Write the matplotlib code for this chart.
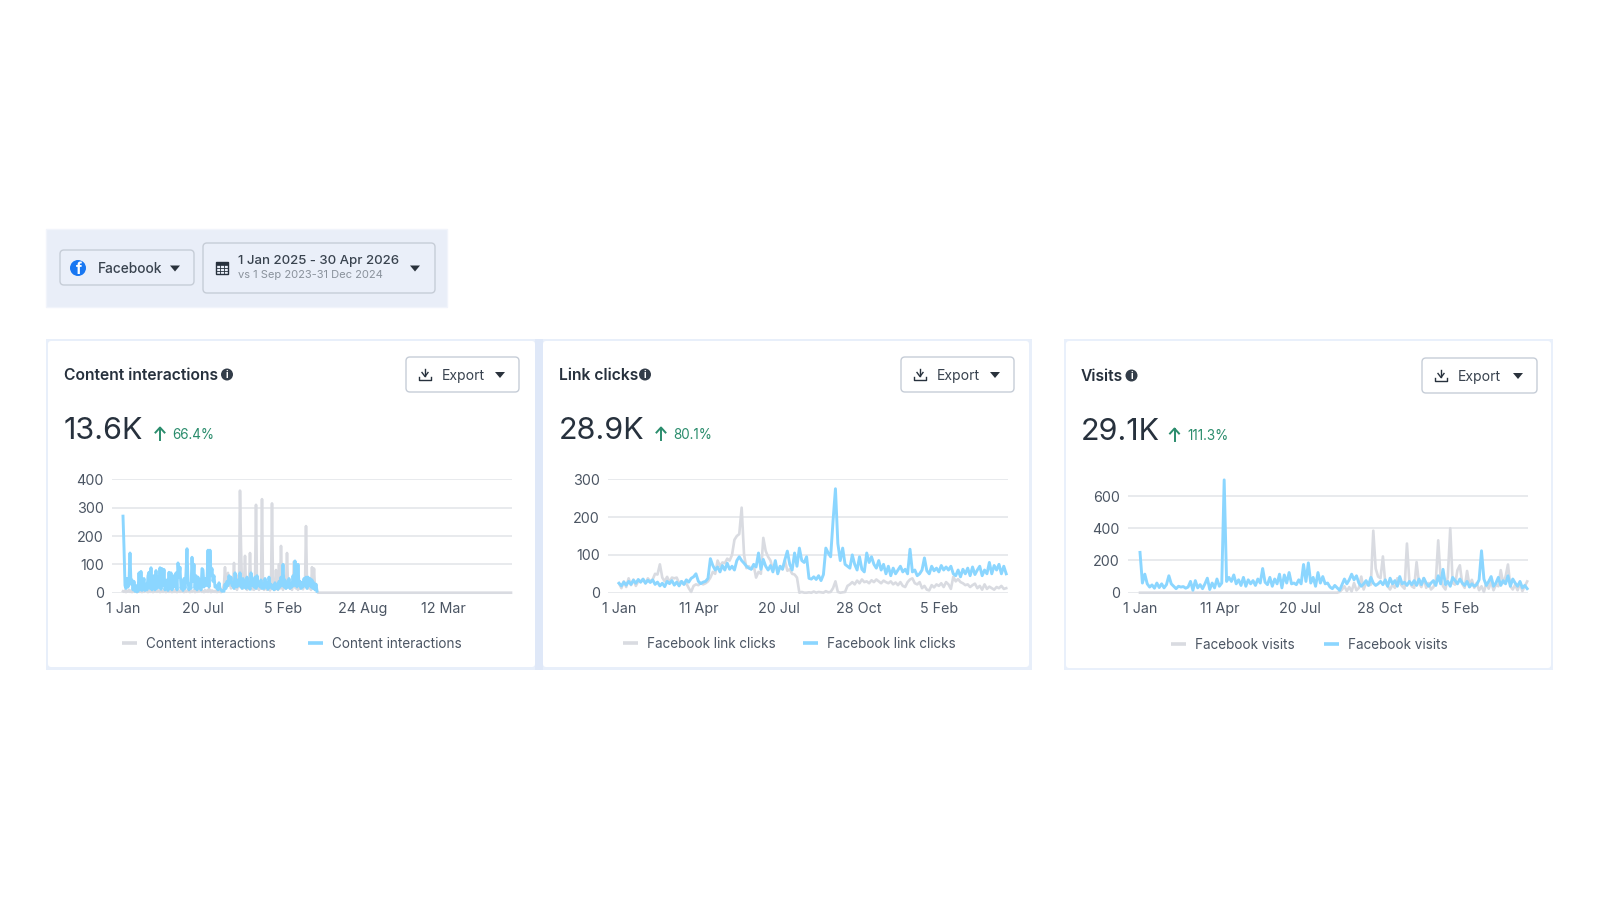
import numpy as np
import matplotlib
matplotlib.use("Agg")
import matplotlib.pyplot as plt
from matplotlib.patches import Rectangle, FancyBboxPatch, Circle, Polygon

plt.rcParams["font.family"] = ["Inter", "DejaVu Sans"]

# Daily-ish samples, one list per series
content_prev = [
    5, 3, 8, 2, 6, 4, 10, 3, 7, 2, 5, 8, 3, 6, 2, 4, 9, 3, 5, 2,
    7, 3, 6, 10, 4, 2, 8, 3, 5, 7, 2, 6, 4, 9, 3, 5, 8, 2, 4, 6,
    3, 10, 5, 2, 7, 4, 3, 8, 5, 2, 6, 3, 9, 4, 2, 7, 5, 3, 12, 4,
    6, 2, 8, 3, 5, 10, 4, 2, 7, 3, 6, 9, 2, 5, 3, 8, 4, 12, 6, 3,
    5, 2, 9, 4, 7, 3, 14, 5, 2, 8, 4, 6, 3, 7, 2, 5, 3, 6, 2, 4,
    15, 30, 90, 20, 45, 70, 25, 55, 15, 30,
    20, 105, 15, 35, 10, 60, 20, 360, 165, 25,
    15, 30, 130, 20, 10, 15, 25, 140, 30, 12,
    20, 10, 25, 310, 15, 30, 10, 20, 15, 330,
    20, 10, 30, 15, 10, 25, 12, 8, 20, 315,
    25, 15, 10, 80, 20, 10, 100, 15, 165, 30,
    10, 60, 20, 15, 140, 25, 45, 15, 20, 10,
    30, 110, 20, 15, 40, 10, 25, 15, 30, 20,
    12, 35, 20, 235, 30, 15, 25, 20, 10, 90,
    20, 85, 15, 30, 5,
]
content_curr = [
    270, 160, 25, 15, 50, 20, 40, 140, 30, 45,
    10, 40, 5, 25, 3, 5, 70, 10, 75, 8,
    25, 50, 8, 30, 10, 60, 72, 15, 88, 10,
    40, 60, 10, 78, 15, 55, 20, 88, 12, 85,
    25, 82, 10, 30, 45, 8, 72, 15, 70, 10,
    45, 60, 20, 70, 10, 105, 55, 90, 15, 30,
    8, 50, 15, 70, 155, 40, 10, 30, 15, 125,
    40, 100, 15, 60, 10, 55, 20, 45, 10, 85,
    80, 20, 50, 25, 40, 150, 20, 150, 60, 85,
    40, 60, 20, 25, 15, 10, 35, 15, 10, 5,
    8, 5, 30, 15, 40, 25, 60, 35, 55, 25,
    30, 15, 70, 40, 20, 45, 25, 70, 30, 15,
    50, 20, 40, 15, 55, 20, 30, 12, 70, 25,
    45, 20, 55, 15, 60, 25, 35, 20, 45, 15,
    30, 15, 50, 20, 35, 12, 55, 20, 30, 15,
    25, 10, 35, 15, 30, 12, 40, 20, 55, 25,
    100, 20, 45, 15, 35, 20, 50, 15, 30, 20,
    60, 25, 112, 30, 20, 100, 25, 40, 15, 35,
    20, 50, 25, 55, 15, 55, 25, 50, 20, 45,
    15, 35, 10, 30, 5,
]
clicks_prev = [
    25, 12, 30, 15, 38, 20, 35, 18, 30, 28, 36, 25, 38, 30, 35,
    50, 48, 75, 40, 30, 42, 28, 40, 38, 40, 25, 30, 22, 25, 12, 2,
    18, 22, 20, 26, 22, 25, 30, 40, 55, 50, 85, 70, 80, 78,
    90, 85, 100, 140, 150, 155, 225, 100, 65, 70, 62, 72, 40,
    55, 50, 145, 110, 95, 85, 60, 75, 55, 70, 62, 85, 58, 62, 50, 48,
    40, 0, 2, 0, 0, 1, 0, 3, 0, 2, 1, 0, 4, 1, 2, 12, 30, 2, 0, 1,
    2, 18, 22, 28, 22, 32, 25, 35, 28, 30, 25, 33, 28, 35, 30, 25, 32, 28,
    25, 30, 22, 27, 20, 28, 18, 15, 28, 35, 38, 25, 22, 28, 12, 18, 8, 6,
    20, 14, 22, 18, 25, 15, 28, 22, 10, 42, 30, 36, 28, 25, 20, 22, 15, 20,
    24, 12, 18, 8, 22, 10, 16, 12, 8, 15, 12, 18, 10, 12,
]
clicks_curr = [
    25, 18, 28, 20, 30, 22, 33, 25, 35, 28, 36, 25, 33, 27, 34, 22, 28, 18,
    25, 16, 30, 24, 32, 20, 28, 18, 30, 22, 34, 28, 38, 42, 50, 30,
    24, 28, 30, 38, 90, 72, 60, 68, 55, 72, 60, 78, 62, 70, 60, 85, 95, 85,
    78, 70, 65, 62, 75, 68, 105, 62, 88, 70, 60, 72, 55, 85, 50, 70, 62, 88,
    110, 75, 60, 105, 70, 118, 85, 80, 95, 38, 36, 42, 35, 45, 32, 48, 118,
    105, 95, 190, 275, 130, 85, 118, 75, 70, 65, 100, 75, 60, 95, 62, 55, 105,
    80, 95, 75, 65, 85, 60, 75, 50, 70, 45, 65, 50, 60, 70, 55, 62, 50, 115,
    55, 60, 45, 50, 60, 92, 58, 50, 70, 58, 65, 55, 72, 60, 68, 60, 70, 50,
    45, 60, 42, 62, 50, 65, 45, 68, 48, 60, 70, 45, 60, 50, 80, 50, 72, 60,
    75, 50, 70, 50,
]
visits_prev = [0] * 83 + [
    5, 20, 40, 10, 35, 8, 60, 15, 30, 100, 20, 60, 45, 50, 385, 150, 100, 90,
    225, 60, 40, 20, 50, 30, 90, 60, 40, 25, 305, 70, 40, 30, 190, 60, 35, 90,
    30, 60, 20, 35, 70, 325, 90, 40, 20, 100, 400, 60, 50, 140, 170, 55, 30,
    135, 45, 80, 30, 60, 15, 40, 5, 60, 25, 70, 15, 50, 40, 140, 60, 100, 175,
    40, 20, 50, 15, 60, 10, 40, 70,
]
visits_curr = [
    250, 60, 115, 55, 35, 48, 28, 60, 32, 55, 30, 50, 105, 55, 40, 25, 40, 35,
    38, 28, 35, 70, 15, 75, 30, 50, 25, 55, 90, 20, 60, 30, 85, 40, 60, 700,
    70, 95, 70, 110, 55, 80, 45, 95, 40, 80, 55, 75, 45, 85, 60, 150, 65, 50,
    95, 40, 85, 55, 115, 30, 110, 60, 125, 55, 60, 50, 80, 55, 175, 70, 185,
    60, 95, 40, 125, 60, 100, 55, 60, 35, 25, 45, 30, 15, 50, 85, 55, 80, 115,
    80, 105, 60, 40, 55, 75, 45, 95, 60, 45, 55, 70, 50, 80, 40, 90, 55, 75,
    40, 100, 55, 65, 45, 70, 50, 75, 45, 85, 50, 90, 60, 40, 60, 75, 45, 105,
    55, 145, 50, 70, 40, 95, 75, 55, 85, 60, 45, 70, 35, 55, 40, 50, 80, 260,
    85, 45, 70, 100, 40, 60, 95, 45, 75, 55, 105, 40, 85, 60, 40, 70, 30, 45, 25,
]

content_ticks = ["1 Jan", "20 Jul", "5 Feb", "24 Aug", "12 Mar"]
recent_ticks = ["1 Jan", "11 Apr", "20 Jul", "28 Oct", "5 Feb"]

GREY = "#d9dbe1"
BLUE = "#8bd6ff"
INK = "#27313d"
LABEL = "#4b5563"
GREEN = "#2a8c6c"
LINE = "#c6cdd7"
W, H = 1600, 900

fig = plt.figure(figsize=(16, 9), dpi=100, facecolor="white")

# Overlay in pixel coordinates for cards, buttons and text
ui = fig.add_axes([0, 0, 1, 1], zorder=0)
ui.set_xlim(0, W)
ui.set_ylim(H, 0)
ui.axis("off")


def box(x0, y0, x1, y1, face="white", edge="none", lw=1.0, radius=4, z=1):
    ui.add_patch(FancyBboxPatch((x0 + radius, y0 + radius), x1 - x0 - 2 * radius, y1 - y0 - 2 * radius,
                                boxstyle=f"round,pad={radius},rounding_size={radius}",
                                facecolor=face, edgecolor=edge, linewidth=lw, zorder=z))


def caret(x, y, w=5, h=5, color="#2a323c"):
    ui.add_patch(Polygon([(x - w, y - h / 2), (x + w, y - h / 2), (x, y + h / 2 + 1)], facecolor=color, zorder=5))


def info_icon(x, y):
    ui.add_patch(Circle((x, y), 6, facecolor="#333d49", zorder=5))
    ui.text(x, y + 0.3, "i", color="white", fontsize=7, fontweight="bold", ha="center", va="center", zorder=6)


def export_button(x0, y0, x1, y1):
    box(x0, y0, x1, y1, face="white", edge=LINE, lw=1.0, z=3)
    ix, iy = x0 + 19, (y0 + y1) / 2
    ui.plot([ix, ix], [iy - 6, iy + 1], color=INK, lw=1.0, zorder=5)
    ui.plot([ix - 3, ix, ix + 3], [iy - 2, iy + 2, iy - 2], color=INK, lw=1.0, zorder=5)
    ui.plot([ix - 6, ix - 6, ix + 6, ix + 6], [iy + 2, iy + 5.5, iy + 5.5, iy + 2], color=INK, lw=1.0, zorder=5)
    ui.text(x0 + 36, iy + 1.2, "Export", color="#39434f", fontsize=10.1, ha="left", va="center", zorder=5)
    caret(x1 - 19, iy)


def up_arrow(x, y):
    ui.plot([x, x], [y - 6, y + 6], color=GREEN, lw=1.4, zorder=5)
    ui.plot([x - 4.5, x, x + 4.5], [y - 1.5, y - 6.5, y - 1.5], color=GREEN, lw=1.4, zorder=5)


def card_text(title, title_x, title_y, icon_x, total, total_y, arrow_x, change, change_x, change_y):
    ui.text(title_x, title_y + 0.8, title, color=INK, fontsize=11.3, fontweight="semibold",
            ha="left", va="center", zorder=5)
    info_icon(icon_x, title_y)
    ui.text(title_x, total_y, total, color=INK, fontsize=22, ha="left", va="center", zorder=5)
    up_arrow(arrow_x, change_y)
    ui.text(change_x, change_y + 1, change, color=GREEN, fontsize=9.7, ha="left", va="center", zorder=5)


def legend(y, grey_x, grey_label, blue_x, blue_label):
    for x, col, label in [(grey_x, GREY, grey_label), (blue_x, BLUE, blue_label)]:
        ui.plot([x, x + 15], [y, y], color=col, lw=2.6, solid_capstyle="butt", zorder=5)
        ui.text(x + 24, y + 1, label, color=LABEL, fontsize=9.75, ha="left", va="center", zorder=5)


def line_chart(x0, x1, top_px, top_val, yticks, xlim, xticks, xlabels, prev_x, prev, curr_x, curr):
    # 0 always sits on the same pixel row
    y0_px = 592.7
    ax = fig.add_axes([x0 / W, 1 - y0_px / H, (x1 - x0) / W, (y0_px - top_px) / H], zorder=2)
    ax.patch.set_alpha(0)
    ax.plot(prev_x, prev, color=GREY, lw=1.9, solid_joinstyle="round", clip_on=False, zorder=3)
    ax.plot(curr_x, curr, color=BLUE, lw=2.1, solid_joinstyle="round", clip_on=False, zorder=4)
    ax.set_xlim(*xlim)
    ax.set_ylim(0, top_val)
    ax.set_yticks(yticks)
    ax.set_xticks(xticks)
    ax.set_xticklabels(xlabels)
    ax.grid(axis="y", color="#e6e8ec", lw=1.3)
    ax.set_axisbelow(True)
    ax.tick_params(length=0, labelsize=10.3, labelcolor=LABEL)
    ax.tick_params(axis="x", pad=6.5)
    ax.tick_params(axis="y", pad=6)
    for s in ax.spines.values():
        s.set_visible(False)
    return ax


# Filter bar
ui.add_patch(Rectangle((46, 229), 401, 78, facecolor="#e9eef8", edgecolor="#f1f4fb", lw=1, zorder=1))
box(60, 250, 194, 285, face="#eaeff9", edge=LINE, lw=1.0, z=3)
ui.add_patch(Circle((78, 268), 8, facecolor="#1877f2", zorder=5))
ui.text(78.5, 269, "f", color="white", fontsize=11, fontweight="bold", ha="center", va="center", zorder=6)
ui.text(98, 269, "Facebook", color="#39434f", fontsize=9.9, fontweight="medium", ha="left", va="center", zorder=5)
caret(175, 268)
box(203, 243, 435, 293, face="#eaeff9", edge=LINE, lw=1.0, z=3)
ui.add_patch(Rectangle((216, 262), 12, 12, facecolor="none", edgecolor=INK, lw=1.0, zorder=5))
ui.add_patch(Rectangle((216, 262), 12, 2.5, facecolor=INK, edgecolor=INK, lw=0.5, zorder=5))
for gx in (220, 224):
    ui.plot([gx, gx], [265, 274], color=INK, lw=0.6, zorder=5)
for gy in (268, 271):
    ui.plot([216, 228], [gy, gy], color=INK, lw=0.6, zorder=5)
ui.text(238, 261, "1 Jan 2025 - 30 Apr 2026", color="#39434f", fontsize=9.55, fontweight="medium",
        ha="left", va="center", zorder=5)
ui.text(238, 275.5, "vs 1 Sep 2023-31 Dec 2024", color="#8a929c", fontsize=8.05, ha="left", va="center", zorder=5)
caret(415, 268)

# Cards
ui.add_patch(Rectangle((46, 339), 986, 331, facecolor="#e8effa", edgecolor="none", zorder=1))
ui.add_patch(Rectangle((535, 339), 8, 331, facecolor="#dfe8f8", edgecolor="none", zorder=1))
box(48, 341, 535, 667, face="white", radius=3, z=2)
box(543, 341, 1029, 667, face="white", radius=3, z=2)
ui.add_patch(Rectangle((1064, 339), 489, 331, facecolor="#e9f0fb", edgecolor="none", zorder=1))
box(1066, 341, 1551, 668, face="white", radius=3, z=2)

export_button(406, 357, 519, 392)
export_button(901, 357, 1014, 392)
export_button(1422, 358, 1537, 393)

card_text("Content interactions", 64, 374.5, 227, "13.6K", 431, 160, "66.4%", 172, 434)
card_text("Link clicks", 559, 374.5, 645, "28.9K", 431, 661, "80.1%", 673.5, 434)
card_text("Visits", 1081, 375.5, 1131.5, "29.1K", 432, 1174.5, "111.3%", 1187, 435)

legend(643, 122, "Content interactions", 308, "Content interactions")
legend(643, 623, "Facebook link clicks", 803, "Facebook link clicks")
legend(644, 1171, "Facebook visits", 1324, "Facebook visits")

# Content interactions runs on a 1000-ish day axis, with the rest flat at zero
prev_days = np.arange(len(content_prev)) * 2.5
curr_days = np.arange(len(content_curr)) * 2.5
tail_days = np.array([prev_days[-1] + 2.5, 970.0])
line_chart(112, 512, 479.3, 400, [0, 100, 200, 300, 400], (-27.5, 972.5), [0, 200, 400, 600, 800], content_ticks,
           np.concatenate([prev_days, tail_days]), content_prev + [0, 0], curr_days, content_curr)

line_chart(608, 1008, 479.3, 300, [0, 100, 200, 300], (-13.75, 486.25), [0, 100, 200, 300, 400], recent_ticks,
           np.linspace(0, 484, len(clicks_prev)), clicks_prev, np.linspace(0, 484, len(clicks_curr)), clicks_curr)

# 600 gridline sits at y=496, the axes top is extended to hold the 700 spike
line_chart(1128, 1528, 480.7, 695, [0, 200, 400, 600], (-15, 485), [0, 100, 200, 300, 400], recent_ticks,
           np.linspace(0, 484, len(visits_prev)), visits_prev, np.linspace(0, 484, len(visits_curr)), visits_curr)

fig.savefig("out.png", dpi=100)
